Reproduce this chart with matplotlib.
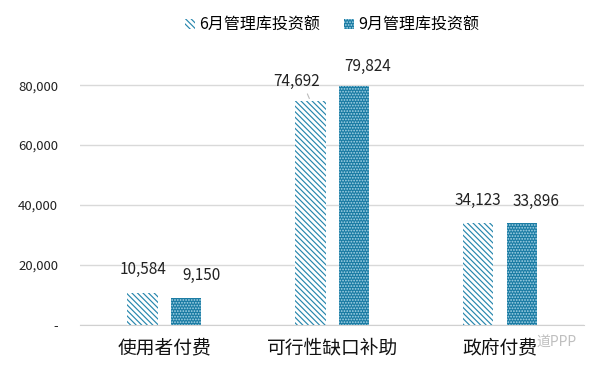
import matplotlib
matplotlib.use("Agg")
import matplotlib.pyplot as plt
import numpy as np

plt.rcParams['font.family'] = ['Noto Sans CJK SC', 'DejaVu Sans']
plt.rcParams['hatch.linewidth'] = 0.85

# ─── Datos ────────────────────────────────────────────────────────────────────
categorias = ["使用者付费", "可行性缺口补助", "政府付费"]
serie_jun = [10584, 74692, 34123]
serie_sep = [9150, 79824, 33896]
nombres = ["6月管理库投资额", "9月管理库投资额"]
yticks = [0, 20000, 40000, 60000, 80000]

# desplazamientos de etiquetas (puntos), como en el original
desp_jun = [(0, 17), (-10, 14), (0, 16)]
desp_sep = [(11, 16), (10, 14), (10, 16)]

teal = "#2787ad"
fig, ax = plt.subplots(figsize=(5.96, 3.68), dpi=100)
fig.subplots_adjust(left=0.135, right=0.98, top=0.85, bottom=0.117)

x = np.arange(len(categorias))
w = 0.18
off = 0.13

ax.grid(axis="y", color="#d9d9d9", linewidth=1.0)
ax.set_axisbelow(True)

b1 = ax.bar(x - off, serie_jun, w, facecolor="white", edgecolor=teal,
            hatch="\\" * 6, linewidth=0, label=nombres[0])
b2 = ax.bar(x + off, serie_sep, w, facecolor="#1a7ba3", edgecolor="#a9d6e8",
            hatch="." * 6, linewidth=0, label=nombres[1])

for bars, vals, desp in ((b1, serie_jun, desp_jun), (b2, serie_sep, desp_sep)):
    for r, v, (dx, dy) in zip(bars, vals, desp):
        ax.annotate(f"{v:,}", (r.get_x() + r.get_width() / 2, v),
                    xytext=(dx, dy), textcoords="offset points",
                    ha="center", va="center", fontsize=11, color="#222222")

# linea guia de la etiqueta desplazada
r = b1[1]
ax.annotate("", (r.get_x() + r.get_width() / 2, serie_jun[1]),
            xytext=(-3, 7), textcoords="offset points",
            arrowprops=dict(arrowstyle="-", color="#bbbbbb", lw=0.8))

ax.set_ylim(0, 90000)
ax.set_xlim(-0.5, 2.5)
ax.set_yticks(yticks)
ax.set_yticklabels(["-" if t == 0 else f"{t:,}" for t in yticks])
ax.set_xticks(x)
ax.set_xticklabels(categorias, fontsize=13.5)
ax.tick_params(axis="y", length=0, labelsize=9.5, pad=16, colors="#222222")
ax.tick_params(axis="x", length=0, pad=9, colors="#111111")

for s in ("top", "right", "left"):
    ax.spines[s].set_visible(False)
ax.spines["bottom"].set_color("#d0d0d0")

ax.legend(loc="center", bbox_to_anchor=(0.5, 1.11), ncol=2,
          frameon=False, fontsize=11.5, handlelength=0.6, handleheight=0.6,
          columnspacing=1.5, handletextpad=0.3)

# marca de agua
fig.text(0.9, 0.06, "道PPP", fontsize=10, color="#b8b8b8", alpha=0.9)

fig.savefig("out.png", dpi=100)
